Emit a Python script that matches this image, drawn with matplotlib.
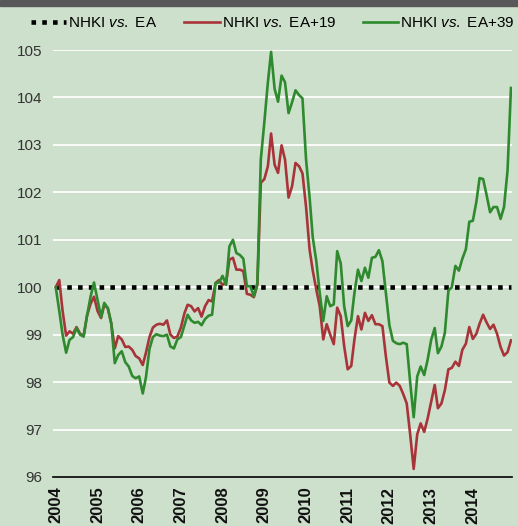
import matplotlib
matplotlib.use("Agg")
import matplotlib.pyplot as plt
import matplotlib.dates as mdates
from matplotlib.patches import Rectangle
import pandas as pd

plt.rcParams['font.family'] = ['Liberation Sans', 'DejaVu Sans']
plt.rcParams['mathtext.fontset'] = 'custom'
plt.rcParams['mathtext.rm'] = 'Liberation Sans'
plt.rcParams['mathtext.it'] = 'Liberation Sans:italic'

# ---- data (monthly, Jan 2004 - Dec 2014) ----
start_month = "2004-01"
n_months = 132
years = [2004, 2005, 2006, 2007, 2008, 2009, 2010, 2011, 2012, 2013, 2014]
y_ticks = [96, 97, 98, 99, 100, 101, 102, 103, 104, 105]

ea = [100.0] * n_months

ea19 = [
    100.0, 100.15, 99.5, 98.98, 99.07, 99.02, 99.16, 99.02, 98.97, 99.4, 99.65, 99.8,
    99.5, 99.35, 99.63, 99.56, 99.24, 98.71, 98.97, 98.9, 98.74, 98.75, 98.68, 98.55,
    98.5, 98.36, 98.62, 98.95, 99.15, 99.21, 99.23, 99.21, 99.3, 99.0, 98.93, 98.96,
    99.15, 99.45, 99.63, 99.6, 99.49, 99.56, 99.38, 99.6, 99.73, 99.7, 100.09, 100.15,
    100.05, 100.1, 100.58, 100.62, 100.37, 100.37, 100.34, 99.86, 99.84, 99.79, 100.05, 102.2,
    102.28, 102.55, 103.24, 102.58, 102.41, 102.99, 102.69, 101.89, 102.13, 102.62, 102.55, 102.4,
    101.7, 100.8, 100.35, 99.95, 99.6, 98.9, 99.22, 99.0, 98.8, 99.57, 99.39, 98.76,
    98.27, 98.34, 98.9, 99.39, 99.11, 99.46, 99.29, 99.41, 99.22, 99.22, 99.18, 98.55,
    97.99, 97.92, 97.99, 97.92, 97.75, 97.55, 96.9, 96.17, 96.9, 97.13, 96.95, 97.23,
    97.59, 97.94, 97.45, 97.55, 97.83, 98.27, 98.3, 98.43, 98.34, 98.68, 98.81, 99.16,
    98.91, 99.02, 99.23, 99.42, 99.26, 99.12, 99.21, 99.02, 98.74, 98.56, 98.63, 98.88,
]

ea39 = [
    100.0, 99.5, 99.0, 98.62, 98.89, 98.95, 99.14, 99.0, 98.96, 99.4, 99.8, 100.1,
    99.74, 99.37, 99.67, 99.56, 99.24, 98.4, 98.57, 98.65, 98.42, 98.33, 98.13, 98.08,
    98.12, 97.76, 98.1, 98.7, 98.95, 99.01, 98.98, 98.97, 99.0, 98.75, 98.71, 98.9,
    98.95, 99.2, 99.42, 99.3, 99.25, 99.27, 99.2, 99.33, 99.4, 99.42, 100.09, 100.1,
    100.24, 100.05, 100.86, 101.0, 100.72, 100.68, 100.6, 100.02, 100.02, 99.81, 100.09, 102.69,
    103.48, 104.32, 104.96, 104.18, 103.91, 104.46, 104.32, 103.67, 103.9, 104.15, 104.05, 103.98,
    102.7, 101.9, 101.05, 100.55, 99.88, 99.29, 99.81, 99.6, 99.64, 100.76, 100.5, 99.6,
    99.18, 99.3, 99.88, 100.37, 100.13, 100.41, 100.2, 100.62, 100.64, 100.78, 100.55, 99.88,
    99.2, 98.87, 98.82, 98.8, 98.83, 98.8, 98.0, 97.26, 98.12, 98.33, 98.15, 98.47,
    98.89, 99.14, 98.61, 98.75, 99.04, 99.93, 100.0, 100.45, 100.35, 100.6, 100.8, 101.38,
    101.4, 101.8, 102.3, 102.28, 101.95, 101.58, 101.69, 101.69, 101.44, 101.69, 102.46, 104.2,
]

labels = [r"NHKI $\mathit{vs.}$ EA", r"NHKI $\mathit{vs.}$ EA+19", r"NHKI $\mathit{vs.}$ EA+39"]

# ---- styling ----
BG = "#cde0cb"
RED = "#a8343a"
GREEN = "#2f8a2f"
BAND = "#58585a"

dates = pd.date_range(start_month, periods=n_months, freq="MS")

W, H = 518, 526
fig = plt.figure(figsize=(W / 100, H / 100), dpi=100, facecolor=BG)
ax = fig.add_axes([53 / W, (H - 477) / H, (512 - 53) / W, (477 - 50) / H])
ax.set_facecolor(BG)

fig.add_artist(Rectangle((0, 1 - 5.5 / H), 1, 5.5 / H, transform=fig.transFigure,
                         color=BAND, zorder=10))

ax.set_ylim(96, 105)
ax.set_yticks(y_ticks)
ax.set_xlim(pd.Timestamp("2003-12-08"), pd.Timestamp("2014-12-10"))
ax.set_xticks([pd.Timestamp(f"{y}-01-01") for y in years])
ax.set_xticklabels([str(y) for y in years], rotation=90, fontweight="bold",
                   fontsize=12, color="#111111")
ax.tick_params(axis="x", length=0, pad=7)
ax.tick_params(axis="y", length=0, pad=8, labelsize=11, labelcolor="#333333")

for y in y_ticks[1:]:
    ax.axhline(y, color="white", lw=1.3, zorder=0)

for side in ["top", "right", "left"]:
    ax.spines[side].set_visible(False)
ax.spines["bottom"].set_color("black")
ax.spines["bottom"].set_linewidth(1.2)

l0, = ax.plot(dates, ea, color="black", lw=3.3, linestyle=(0, (1, 1.35)),
              dash_capstyle="butt", zorder=2)
l1, = ax.plot(dates, ea19, color=RED, lw=1.9, zorder=3)
l2, = ax.plot(dates, ea39, color=GREEN, lw=1.9, zorder=4)

fig.legend([l0, l1, l2], labels, loc="center left",
           bbox_to_anchor=(31 / W, 1 - 23 / H), ncol=3, frameon=False,
           fontsize=11, handlelength=2.3, handletextpad=0.15,
           columnspacing=1.75, borderpad=0, borderaxespad=0)

fig.savefig("out.png", dpi=100, facecolor=BG)
